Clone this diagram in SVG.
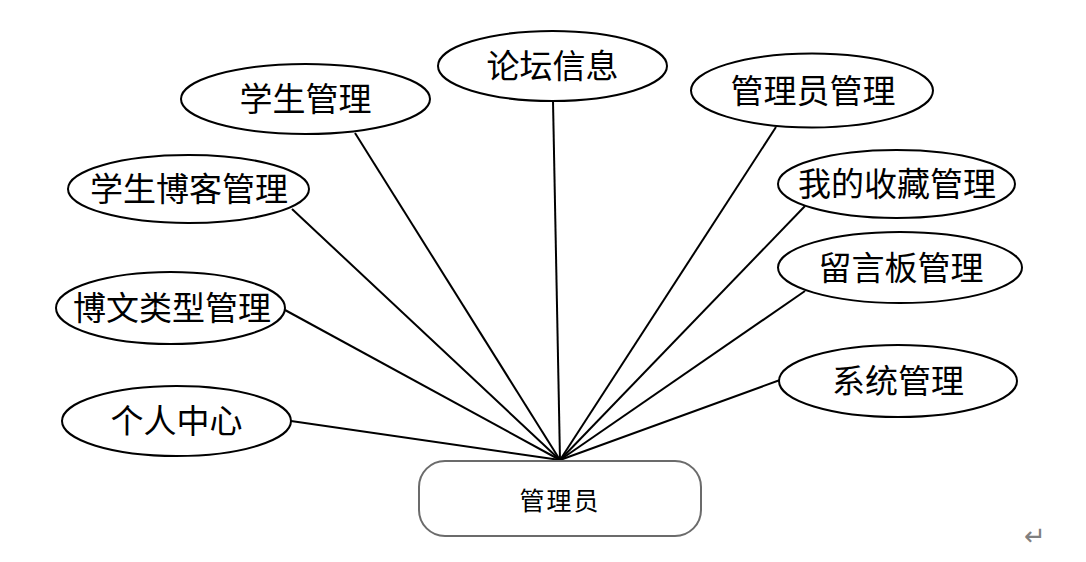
<svg xmlns="http://www.w3.org/2000/svg" width="1086" height="562" viewBox="0 0 1086 562">
<style>
.e{fill:#fff;stroke:#000;stroke-width:2}
.t{font-family:"Noto Sans CJK SC","Noto Sans",sans-serif;font-size:33px;fill:#000;text-anchor:middle;dominant-baseline:central}
.c line{stroke:#000;stroke-width:2}
</style>
<rect width="1086" height="562" fill="#fff"/>
<g class="c" id="connectors">
<line x1="291" y1="421" x2="560" y2="460"/>
<line x1="285" y1="310" x2="560" y2="460"/>
<line x1="292" y1="209" x2="560" y2="460"/>
<line x1="355" y1="133" x2="560" y2="460"/>
<line x1="553" y1="101" x2="560" y2="460"/>
<line x1="776" y1="127" x2="560" y2="460"/>
<line x1="805" y1="206" x2="560" y2="460"/>
<line x1="805" y1="291" x2="560" y2="460"/>
<line x1="780" y1="380" x2="560" y2="460"/>
</g>
<g id="admin">
<rect x="419" y="461" width="282" height="75" rx="26" fill="#fff" stroke="#6b6b6b" stroke-width="2"/>
<text x="560" y="499" class="t" style="font-size:25px;letter-spacing:2px">管理员</text>
</g>
<g id="n1"><ellipse class="e" cx="305.5" cy="99" rx="124.5" ry="35"/><text class="t" x="305.5" y="97">学生管理</text></g>
<g id="n2"><ellipse class="e" cx="552.5" cy="66" rx="114.5" ry="35"/><text class="t" x="552.5" y="64">论坛信息</text></g>
<g id="n3"><ellipse class="e" cx="812" cy="90.5" rx="121" ry="37"/><text class="t" x="813" y="89">管理员管理</text></g>
<g id="n4"><ellipse class="e" cx="188.5" cy="189" rx="120.5" ry="34"/><text class="t" x="189" y="187">学生博客管理</text></g>
<g id="n5"><ellipse class="e" cx="170.5" cy="308" rx="114.5" ry="36"/><text class="t" x="172" y="306">博文类型管理</text></g>
<g id="n6"><ellipse class="e" cx="176.5" cy="421" rx="114.5" ry="35"/><text class="t" x="176.5" y="419">个人中心</text></g>
<g id="n7"><ellipse class="e" cx="896.5" cy="184" rx="118.5" ry="34"/><text class="t" x="897" y="182">我的收藏管理</text></g>
<g id="n8"><ellipse class="e" cx="900" cy="267.5" rx="122" ry="35.5"/><text class="t" x="901" y="266">留言板管理</text></g>
<g id="n9"><ellipse class="e" cx="898" cy="381" rx="119" ry="36"/><text class="t" x="898" y="379">系统管理</text></g>
<text x="1035" y="536" style="font-family:'DejaVu Sans',sans-serif;font-size:26px;fill:#808080;text-anchor:middle;dominant-baseline:central">↵</text>
</svg>
